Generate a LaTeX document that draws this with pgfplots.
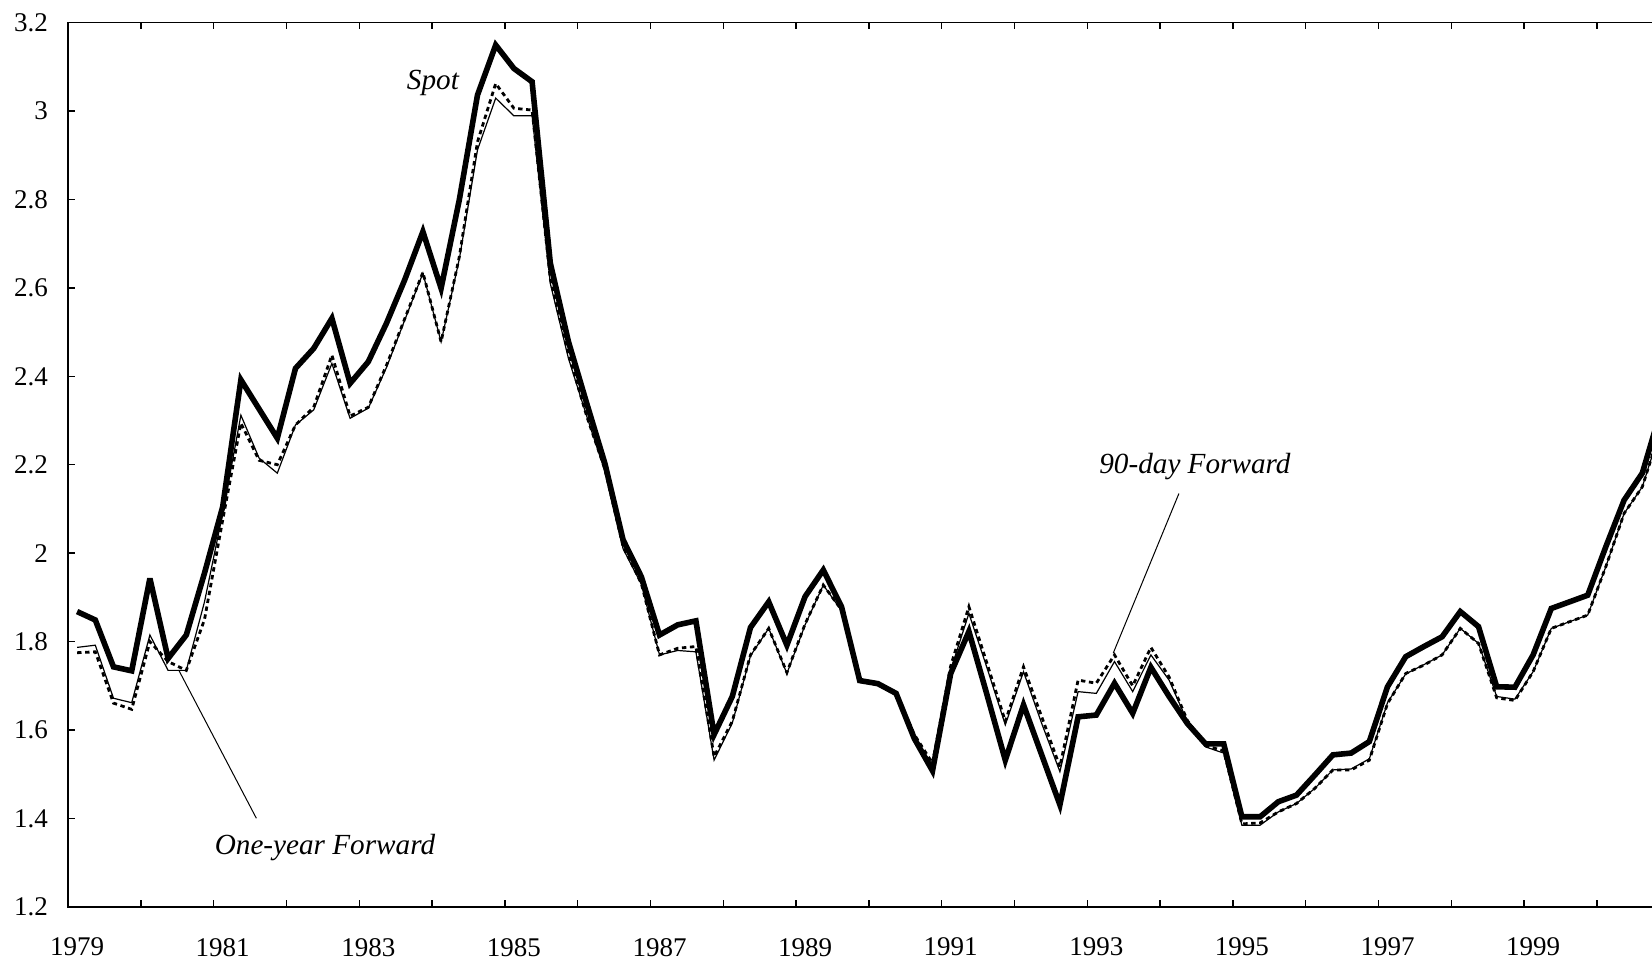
\documentclass[border=0pt]{standalone}
\usepackage{fontspec}
\setmainfont{Liberation Serif}
\usepackage{pgfplots}
\pgfplotsset{compat=1.18}
\usepackage{pgfplotstable}

\pgfplotstableread{
i spot fwd90 fwd1y
0 1.868 1.775 1.787
1 1.849 1.777 1.792
2 1.743 1.661 1.672
3 1.734 1.647 1.662
4 1.943 1.800 1.815
5 1.762 1.755 1.735
6 1.815 1.735 1.735
7 1.955 1.850 1.890
8 2.105 2.075 2.090
9 2.392 2.294 2.312
10 2.326 2.210 2.215
11 2.260 2.200 2.181
12 2.418 2.290 2.290
13 2.463 2.330 2.324
14 2.531 2.448 2.429
15 2.384 2.310 2.305
16 2.433 2.330 2.328
17 2.520 2.425 2.420
18 2.618 2.530 2.527
19 2.727 2.635 2.633
20 2.599 2.478 2.478
21 2.799 2.670 2.665
22 3.036 2.930 2.912
23 3.149 3.062 3.029
24 3.096 3.006 2.989
25 3.066 3.002 2.989
26 2.656 2.620 2.610
27 2.478 2.450 2.440
28 2.339 2.310 2.310
29 2.203 2.190 2.185
30 2.030 2.015 2.010
31 1.947 1.932 1.930
32 1.815 1.770 1.770
33 1.838 1.785 1.780
34 1.847 1.789 1.777
35 1.590 1.540 1.532
36 1.676 1.620 1.616
37 1.832 1.770 1.768
38 1.890 1.830 1.830
39 1.792 1.730 1.728
40 1.902 1.840 1.838
41 1.962 1.928 1.928
42 1.879 1.872 1.870
43 1.712 1.710 1.709
44 1.705 1.704 1.703
45 1.683 1.683 1.682
46 1.581 1.590 1.586
47 1.508 1.525 1.520
48 1.728 1.745 1.736
49 1.823 1.879 1.864
50 1.679 1.750 1.740
51 1.532 1.620 1.612
52 1.657 1.743 1.732
53 1.544 1.630 1.615
54 1.431 1.517 1.506
55 1.630 1.713 1.687
56 1.634 1.706 1.683
57 1.706 1.770 1.755
58 1.638 1.700 1.687
59 1.742 1.787 1.770
60 1.676 1.720 1.713
61 1.615 1.622 1.620
62 1.569 1.565 1.562
63 1.569 1.553 1.548
64 1.404 1.388 1.385
65 1.404 1.390 1.385
66 1.438 1.415 1.415
67 1.453 1.434 1.434
68 1.498 1.468 1.468
69 1.544 1.510 1.510
70 1.548 1.510 1.512
71 1.574 1.532 1.535
72 1.698 1.660 1.662
73 1.766 1.728 1.727
74 1.789 1.747 1.748
75 1.811 1.770 1.770
76 1.868 1.830 1.830
77 1.834 1.796 1.796
78 1.698 1.673 1.676
79 1.697 1.667 1.670
80 1.770 1.732 1.732
81 1.875 1.830 1.830
82 1.890 1.845 1.845
83 1.905 1.860 1.860
84 2.015 1.970 1.970
85 2.120 2.090 2.090
86 2.181 2.150 2.150
87 2.320 2.280 2.280
}\ratedata

\begin{document}
\begin{tikzpicture}
\useasboundingbox (-34pt,-28pt) rectangle (792pt,453.5pt);
\clip (-34pt,-28pt) rectangle (792pt,453.5pt);
\begin{axis}[
  at={(0pt,0pt)}, anchor=south west,
  scale only axis,
  width=800.8pt, height=442.25pt,
  xmin=-0.5, xmax=87.5,
  ymin=1.2, ymax=3.2,
  ytick={1.2,1.4,1.6,1.8,2.0,2.2,2.4,2.6,2.8,3.0,3.2},
  yticklabels={1.2,1.4,1.6,1.8,2,2.2,2.4,2.6,2.8,3,3.2},
  xtick={-0.5,3.5,...,83.5},
  xticklabels={1979,,1981,,1983,,1985,,1987,,1989,,1991,,1993,,1995,,1997,,1999,},
  tick align=inside,
  major tick length=3.5pt,
  tick style={line width=0.7pt, black},
  ticklabel style={font=\fontsize{13.5}{15}\selectfont},
  xticklabel style={xshift=4.55pt, yshift=-12pt},
  yticklabel style={xshift=-6.5pt},
  axis line style={line width=0.9pt},
  clip=true,
]
\addplot[black, line width=0.6pt] table[x=i, y=fwd1y] {\ratedata};
\addplot[black, line width=1.4pt, dash pattern=on 2.2pt off 1.8pt] table[x=i, y=fwd90] {\ratedata};
\addplot[black, line width=2.8pt, miter limit=4] table[x=i, y=spot] {\ratedata};

\node[font=\fontsize{14.6}{17}\selectfont\itshape] at (axis cs:19.55,3.064) {Spot};
\node[font=\fontsize{14.6}{17}\selectfont\itshape] at (axis cs:61.42,2.195) {90-day Forward};
\node[font=\fontsize{14.6}{17}\selectfont\itshape] at (axis cs:13.62,1.335) {One-year Forward};
\draw[line width=0.5pt] (axis cs:60.54,2.135) -- (axis cs:56.93,1.774);
\draw[line width=0.5pt] (axis cs:5.58,1.736) -- (axis cs:9.85,1.4006);
\end{axis}
\end{tikzpicture}
\end{document}
